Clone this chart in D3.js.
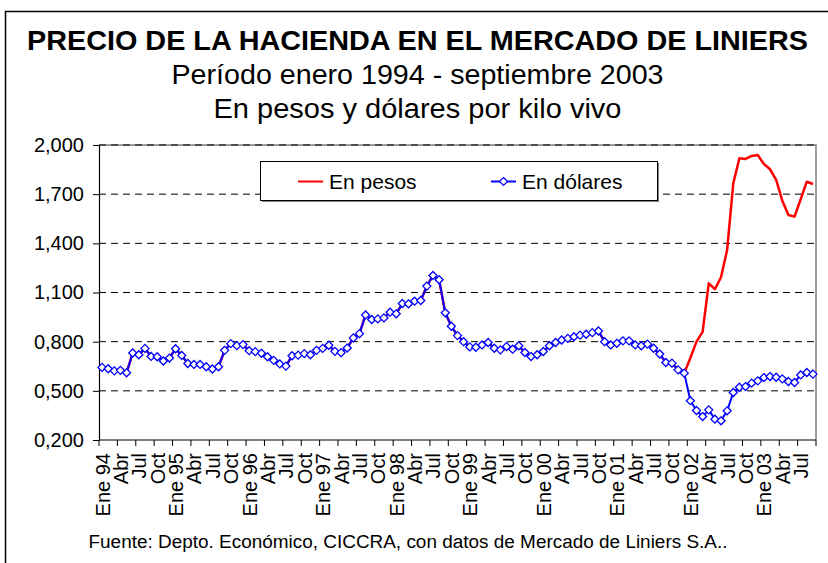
<!DOCTYPE html>
<html>
<head>
<meta charset="utf-8">
<script src="https://cdn.jsdelivr.net/npm/d3@7"></script>
<style>
    body { margin: 0; background: #fff; }
    text { font-family: 'Liberation Sans', Arial, sans-serif; fill: #000; }
</style>
</head>
<body>
<div id="chart"></div>
<script>
// Monthly values, Jan 1994 - Sep 2003 (one line per year)
const dolares = [
    0.643, 0.635, 0.622, 0.625, 0.610, 0.731, 0.720, 0.759, 0.710, 0.708, 0.682, 0.700,
    0.757, 0.716, 0.667, 0.661, 0.661, 0.647, 0.633, 0.647, 0.747, 0.788, 0.776, 0.782,
    0.745, 0.739, 0.729, 0.708, 0.686, 0.664, 0.651, 0.714, 0.718, 0.727, 0.720, 0.747,
    0.759, 0.778, 0.741, 0.733, 0.761, 0.823, 0.849, 0.963, 0.935, 0.939, 0.945, 0.980,
    0.970, 1.033, 1.031, 1.047, 1.051, 1.139, 1.204, 1.178, 0.976, 0.894, 0.837, 0.800,
    0.768, 0.766, 0.780, 0.795, 0.760, 0.750, 0.770, 0.754, 0.775, 0.734, 0.709, 0.720,
    0.740, 0.775, 0.795, 0.810, 0.820, 0.830, 0.840, 0.845, 0.855, 0.865, 0.800, 0.780,
    0.790, 0.805, 0.805, 0.780, 0.775, 0.785, 0.760, 0.725, 0.673, 0.669, 0.628, 0.608,
    0.440, 0.380, 0.343, 0.384, 0.327, 0.317, 0.378, 0.490, 0.522, 0.526, 0.547, 0.561,
    0.581, 0.587, 0.583, 0.573, 0.557, 0.551, 0.597, 0.612, 0.602
]

const pesos = [
    0.643, 0.635, 0.622, 0.625, 0.610, 0.731, 0.720, 0.759, 0.710, 0.708, 0.682, 0.700,
    0.757, 0.716, 0.667, 0.661, 0.661, 0.647, 0.633, 0.647, 0.747, 0.788, 0.776, 0.782,
    0.745, 0.739, 0.729, 0.708, 0.686, 0.664, 0.651, 0.714, 0.718, 0.727, 0.720, 0.747,
    0.759, 0.778, 0.741, 0.733, 0.761, 0.823, 0.849, 0.963, 0.935, 0.939, 0.945, 0.980,
    0.970, 1.033, 1.031, 1.047, 1.051, 1.139, 1.204, 1.178, 0.976, 0.894, 0.837, 0.800,
    0.768, 0.766, 0.780, 0.795, 0.760, 0.750, 0.770, 0.754, 0.775, 0.734, 0.709, 0.720,
    0.740, 0.775, 0.795, 0.810, 0.820, 0.830, 0.840, 0.845, 0.855, 0.865, 0.800, 0.780,
    0.790, 0.805, 0.805, 0.780, 0.775, 0.785, 0.760, 0.725, 0.673, 0.669, 0.628, 0.608,
    0.700, 0.800, 0.860, 1.156, 1.120, 1.193, 1.360, 1.766, 1.919, 1.915, 1.933, 1.939,
    1.884, 1.852, 1.787, 1.660, 1.573, 1.563, 1.669, 1.776, 1.762
]

// one label every three months
const xTickLabels = [
    'Ene 94', 'Abr', 'Jul', 'Oct', 'Ene 95', 'Abr', 'Jul', 'Oct',
    'Ene 96', 'Abr', 'Jul', 'Oct', 'Ene 97', 'Abr', 'Jul', 'Oct',
    'Ene 98', 'Abr', 'Jul', 'Oct', 'Ene 99', 'Abr', 'Jul', 'Oct',
    'Ene 00', 'Abr', 'Jul', 'Oct', 'Ene 01', 'Abr', 'Jul', 'Oct',
    'Ene 02', 'Abr', 'Jul', 'Oct', 'Ene 03', 'Abr', 'Jul'
]

const yTicks = [0.2, 0.5, 0.8, 1.1, 1.4, 1.7, 2.0]

const series = [
    { name: 'En pesos', values: pesos, color: '#ff0000', width: 2.5, markers: false },
    { name: 'En dólares', values: dolares, color: '#0000ff', width: 2, markers: true }
]

const W = 828, H = 563
const plot = { left: 99, right: 816, top: 145, bottom: 440 }

const svg = d3.select('#chart').append('svg')
    .attr('width', W)
    .attr('height', H)

svg.append('rect').attr('width', W).attr('height', H).attr('fill', '#fff')

// outer frame (runs off the right and bottom of the picture)
svg.append('rect')
    .attr('x', 5.5).attr('y', 11.5)
    .attr('width', 900).attr('height', 700)
    .attr('fill', 'none')
    .attr('stroke', '#000')
    .attr('stroke-width', 1.5)

// titles
const titles = [
    { text: 'PRECIO DE LA HACIENDA EN EL MERCADO DE LINIERS', y: 50, size: 28, weight: 'bold', len: 781 },
    { text: 'Período enero 1994 - septiembre 2003', y: 84, size: 27, weight: 'normal', len: 492 },
    { text: 'En pesos y dólares por kilo vivo', y: 118, size: 27, weight: 'normal', len: 408 }
]
svg.selectAll('.title')
    .data(titles)
    .enter()
    .append('text')
    .attr('class', 'title')
    .attr('x', 417.5)
    .attr('y', d => d.y)
    .attr('text-anchor', 'middle')
    .attr('font-size', d => d.size)
    .attr('font-weight', d => d.weight)
    .attr('textLength', d => d.len)
    .attr('lengthAdjust', 'spacingAndGlyphs')
    .text(d => d.text)

// scales
const x = d3.scaleBand()
    .domain(d3.range(dolares.length))
    .range([plot.left, plot.right])
const cx = i => x(i) + x.bandwidth() / 2

const y = d3.scaleLinear()
    .domain([0.2, 2.0])
    .range([plot.bottom, plot.top])

// plot frame: grey top/right
svg.append('path')
    .attr('d', `M${plot.left},${plot.top}H${plot.right}V${plot.bottom}`)
    .attr('fill', 'none')
    .attr('stroke', '#808080')
    .attr('stroke-width', 1.5)

// dashed gridlines
svg.selectAll('.grid')
    .data(yTicks.slice(1))
    .enter()
    .append('line')
    .attr('class', 'grid')
    .attr('x1', plot.left).attr('x2', plot.right)
    .attr('y1', d => y(d)).attr('y2', d => y(d))
    .attr('stroke', '#000')
    .attr('stroke-width', 1)
    .attr('stroke-dasharray', '7,5')

// y axis
const yAxis = svg.append('g')
    .attr('transform', `translate(${plot.left},0)`)
    .call(d3.axisLeft(y)
        .tickValues(yTicks)
        .tickSize(6)
        .tickSizeOuter(0)
        .tickPadding(9)
        .tickFormat(d => d.toFixed(3).replace('.', ',')))
yAxis.select('.domain').attr('stroke', '#000').attr('stroke-width', 1.2)
yAxis.selectAll('line').attr('stroke', '#000')
yAxis.selectAll('text')
    .attr('font-size', 20)
    .attr('font-family', "'Liberation Sans', Arial, sans-serif")
    .attr('fill', '#000')

// x axis: ticks every 3 months on category boundaries
const tickIdx = d3.range(0, dolares.length + 1, 3)
const xAxis = svg.append('g')
svg.append('line')
    .attr('x1', plot.left).attr('x2', plot.right)
    .attr('y1', plot.bottom).attr('y2', plot.bottom)
    .attr('stroke', '#000')
    .attr('stroke-width', 1.2)
xAxis.selectAll('.xtick')
    .data(tickIdx)
    .enter()
    .append('line')
    .attr('x1', d => d < dolares.length ? x(d) : plot.right)
    .attr('x2', d => d < dolares.length ? x(d) : plot.right)
    .attr('y1', plot.bottom)
    .attr('y2', plot.bottom + 6)
    .attr('stroke', '#000')

xAxis.selectAll('.xlabel')
    .data(xTickLabels)
    .enter()
    .append('text')
    .attr('class', 'xlabel')
    .attr('transform', (d, i) => `translate(${cx(i * 3) + 0.5},${plot.bottom + 13}) rotate(-90)`)
    .attr('text-anchor', 'end')
    .attr('dy', '0.35em')
    .attr('font-size', 20)
    .text(d => d)

// series lines
const line = d3.line()
    .x((d, i) => cx(i))
    .y(d => y(d))

svg.selectAll('.series')
    .data(series)
    .enter()
    .append('path')
    .attr('class', 'series')
    .attr('d', d => line(d.values))
    .attr('fill', 'none')
    .attr('stroke', d => d.color)
    .attr('stroke-width', d => d.width)
    .attr('stroke-linejoin', 'round')

// diamond markers on the dollar series
const diamond = 'M0,-4L4,0L0,4L-4,0Z'
svg.selectAll('.marker')
    .data(dolares)
    .enter()
    .append('path')
    .attr('class', 'marker')
    .attr('d', diamond)
    .attr('transform', (d, i) => `translate(${cx(i)},${y(d)})`)
    .attr('fill', '#fff')
    .attr('stroke', '#0000ff')
    .attr('stroke-width', 1.3)

// legend
const legend = svg.append('g').attr('transform', 'translate(260.5,161.5)')
legend.append('rect')
    .attr('x', 1.5).attr('y', 1.5)
    .attr('width', 397).attr('height', 39)
    .attr('fill', '#808080')
legend.append('rect')
    .attr('width', 397).attr('height', 39)
    .attr('fill', '#fff')
    .attr('stroke', '#000')
    .attr('stroke-width', 1)

const legendItems = legend.selectAll('.item')
    .data(series)
    .enter()
    .append('g')
    .attr('class', 'item')
    .attr('transform', (d, i) => `translate(${[37.5, 230.5][i]},20)`)
legendItems.append('line')
    .attr('x1', 0).attr('x2', 25)
    .attr('stroke', d => d.color)
    .attr('stroke-width', 2)
legendItems.filter(d => d.markers)
    .append('path')
    .attr('d', diamond)
    .attr('transform', 'translate(12.5,0)')
    .attr('fill', '#fff')
    .attr('stroke', d => d.color)
    .attr('stroke-width', 1.2)
legendItems.append('text')
    .attr('x', 31)
    .attr('dy', '0.36em')
    .attr('font-size', 21)
    .text(d => d.name)

// source
svg.append('text')
    .attr('x', 408)
    .attr('y', 548)
    .attr('text-anchor', 'middle')
    .attr('font-size', 18)
    .attr('textLength', 639)
    .attr('lengthAdjust', 'spacingAndGlyphs')
    .text('Fuente: Depto. Económico, CICCRA, con datos de Mercado de Liniers S.A..')
</script>
</body>
</html>
